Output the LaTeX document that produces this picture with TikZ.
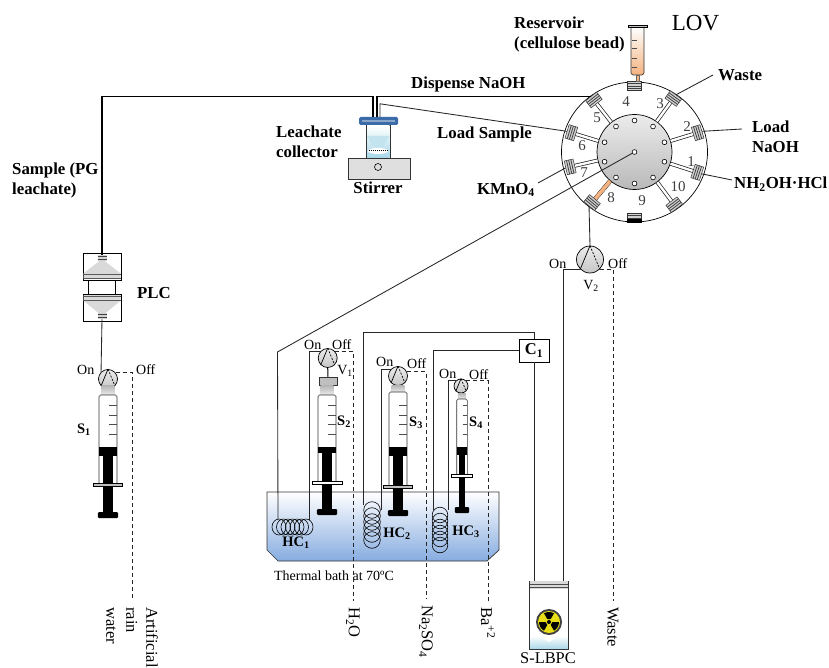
\documentclass[tikz,border=0pt]{standalone}
\usepackage{fontspec}
\setmainfont{Liberation Serif}
\usetikzlibrary{shapes.geometric}

\definecolor{bathblue}{HTML}{86ACE0}
\definecolor{lidblue}{HTML}{3B6BA8}
\definecolor{liquid}{HTML}{A9D8E8}
\definecolor{beadorange}{HTML}{F3B27F}
\definecolor{pipegray}{HTML}{262626}

\tikzset{
  pipe/.style={draw=pipegray, line width=.85pt},
  heavypipe/.style={draw=black, line width=1.2pt},
  drain/.style={draw=pipegray, line width=.8pt, dashed, dash pattern=on 4pt off 3pt},
  thinlbl/.style={font=\fontsize{14}{16}\selectfont, inner sep=0pt},
  boldlbl/.style={font=\fontsize{16.8}{20}\selectfont\bfseries, inner sep=0pt, align=left},
  smallbold/.style={font=\fontsize{14.5}{16}\selectfont\bfseries, inner sep=0pt},
  sidelbl/.style={font=\fontsize{16.5}{20}\selectfont, inner sep=0pt, rotate=-90, anchor=west, align=left},
  numlbl/.style={font=\fontsize{15}{16}\selectfont, text=black!75, inner sep=0pt},
  portbox/.style={draw=black!80, rectangle, inner sep=0pt, minimum width=14pt, minimum height=9pt, fill=gray!35, line width=.5pt},
  stripes/.style={draw=black!75, line width=.8pt},
  channel/.style={draw=black!90, double=white, double distance=2.4pt, line width=.7pt},
  valvebody/.style={circle, draw=black, line width=.7pt, inner sep=0pt, top color=gray!15, bottom color=gray!45},
  coilring/.style={draw=black, line width=.6pt}
}

\newcommand{\syringe}[9][gray!50]{%
  \pgfmathsetmacro{\stemw}{0.55*#8}
  \pgfmathsetmacro{\footw}{0.8*#8+3}
  \fill[top color=gray!60, bottom color=gray!15] ({#2-0.72*#8},#3) rectangle ({#2+0.72*#8},#4);
  \fill[white] ({#2-#8},#4) rectangle ({#2+#8},#6);
  \draw[black!80, line width=.6pt, rounded corners=1.5pt] ({#2-#8},#6) -- ({#2-#8},#4) -- ({#2+#8},#4) -- ({#2+#8},#6);
  \foreach \i in {0,...,3} \draw[black!70, line width=.6pt] ({#2+0.1*#8},{434-9.6*\i}) -- ({#2+#8},{434-9.6*\i});
  \fill[black] ({#2-#8},447) rectangle ({#2+#8},#5);
  \fill[black] ({#2-\stemw},#5) rectangle ({#2+\stemw},#7);
  \draw[fill=#1, line width=.5pt] ({#2-#9},{#6-1.5}) rectangle ({#2+#9},{#6+1.5});
  \fill[black, rounded corners=1.2pt] ({#2-\footw},#7) rectangle ({#2+\footw},{#7+6});
}

\newcommand{\valve}[4]{%
  \node[valvebody, minimum size=#4] (#1) at (#2,#3) {};
  \draw[black, line width=.7pt] (#1.north) -- (#1.-135);
  \draw[black, line width=.7pt, dash pattern=on 2pt off 1.5pt] (#1.north) -- (#1.-45);
}

\begin{document}
\begin{tikzpicture}[x=1pt, y=-1pt]
\useasboundingbox (0,0) rectangle (829,668);

\fill[white] (0,0) rectangle (829,668);

\draw[black!80, line width=.7pt, top color=white, bottom color=bathblue] (267,492) -- (499,492) -- (499,550) -- (487,561) -- (278,561) -- (267,550) -- cycle;

\node[ellipse, draw=black, line width=.7pt, minimum width=146pt, minimum height=140pt, inner sep=0pt] (lov) at (634.5,152) {};
\node[circle, draw=black, line width=.7pt, minimum size=75pt, inner sep=0pt, top color=gray!15, bottom color=gray!55] (hub) at (634.5,152) {};
\foreach \h in {18,54,...,342}
  \draw[black, line width=.6pt, fill=white] ({634.5+31.5*cos(\h)},{152-31.5*sin(\h)}) circle (2.4);

\foreach \a/\n in {-18/1,17/2,54/3,90/4,128/5,163/6,-167/7,-130/8,-90/9,-53/10}
  \draw[channel] (hub.\a) -- ({634.5+62*cos(\a)},{152-62*sin(\a)});
\draw[draw=black!80, double=beadorange, double distance=3.6pt, line width=.4pt] (hub.-130) -- ({634.5+62*cos(-130)},{152-62*sin(-130)});
\foreach \a/\n in {-18/1,17/2,54/3,90/4,128/5,163/6,-167/7,-130/8,-90/9,-53/10} {
  \node[portbox, rotate=\a-90] (p\n) at ({634.5+66*cos(\a)},{152-66*sin(\a)}) {};
  \foreach \s in {-2.2,0,2.2}
    \draw[stripes, shift={(p\n.center)}, rotate=\a-90] (-7,\s) -- (7,\s);
}
\fill[black] (p9.north west) rectangle ([yshift=3.5pt]p9.north east);

\foreach \n/\x/\y in {1/691/162,2/687/127,3/660/104,4/626/102,5/597/118,6/582/146,7/584/173,8/611/198,9/642/201,10/678/187}
  \node[numlbl] at (\x,\y) {\n};

\fill[top color=white, bottom color=beadorange] (631,27) rectangle (644,75);
\draw[black!80, line width=.6pt] (631,27) -- (631,73) -- (633,75) -- (642,75) -- (644,73) -- (644,27);
\draw[fill=gray!50, line width=.5pt] (628,25) rectangle (647.5,27);
\foreach \y in {40,48,58,67} \draw[black!70, line width=.6pt] (632,\y) -- (636.5,\y);
\draw[draw=black!60, fill=beadorange, line width=.4pt] (636,75) rectangle (639.5,81);

\node[draw=black!80, fill=white, minimum width=24pt, minimum height=33pt, inner sep=0pt, line width=.7pt] (beaker) at (378,141.5) {};
\fill[top color=white, bottom color=liquid] (367,125.5) rectangle (389.5,157.5);
\fill[liquid!70] (367,136) -- (389.5,136) -- (383,147) -- (373,147) -- cycle;
\draw[black!80, line width=.7pt] (366,125) -- (366,158) (390.5,125) -- (390.5,158);
\fill[white] (378,151) ellipse (10 and 3);
\draw[black, line width=1pt, dash pattern=on 1pt off 1pt] (369,150.5) -- (388,150.5);
\node[rectangle, rounded corners=1.5pt, fill=lidblue, minimum width=39pt, minimum height=8pt, inner sep=0pt] (lid) at (378.5,121) {};
\fill[lidblue!60] (362,120) rectangle (395,122);
\node[draw=black!80, fill=gray!25, minimum width=62pt, minimum height=21pt, inner sep=0pt, line width=.7pt] (stirrer) at (379,169) {};
\node[circle, draw=black, line width=.6pt, minimum size=7pt, inner sep=0pt] (stirdot) at (378,167) {};

\node[draw=black, line width=.7pt, minimum width=38pt, minimum height=27pt, inner sep=0pt] (plcA) at (102,266.5) {};
\node[draw=black, line width=.7pt, minimum width=38pt, minimum height=27pt, inner sep=0pt] (plcB) at (102,307.5) {};
\draw[black, line width=.7pt] ([xshift=-14pt]plcA.south) -- ([xshift=-14pt]plcB.north) ([xshift=13pt]plcA.south) -- ([xshift=13pt]plcB.north);
\fill[gray!30] (102,259) -- (120,273) -- (84,273) -- cycle (102,316) -- (120,301) -- (84,301) -- cycle;
\fill[gray!30] (83.5,273) rectangle (120.5,279) (83.5,295) rectangle (120.5,301);
\draw[black!65, line width=.8pt] (83.5,274) -- (120.5,274) (83.5,278) -- (120.5,278) (83.5,296) -- (120.5,296) (83.5,300) -- (120.5,300);
\node[portbox, minimum width=9pt, minimum height=6pt, draw=none] (plcIn) at (102,258) {};
\node[portbox, minimum width=9pt, minimum height=6pt, draw=none] (plcOut) at (102,316) {};
\draw[stripes] (97.5,256.5) -- (106.5,256.5) (97.5,259.5) -- (106.5,259.5) (97.5,314.5) -- (106.5,314.5) (97.5,317.5) -- (106.5,317.5);

\coordinate (hc1a) at (278,520);
\coordinate (hc1b) at (309,520);
\coordinate (hc2a) at (363,505);
\coordinate (hc2b) at (381,510);
\coordinate (hc3a) at (433,510);
\coordinate (hc3b) at (448,510);

\foreach \x in {279,283.5,288,292.5,297,301.5,306} \draw[coilring] (\x,527) ellipse (7 and 8);
\foreach \y in {510,516,522,528,534,540} \draw[coilring] (372,\y) circle (8.3);
\foreach \y in {515,521,527,533,539,545} \draw[coilring] (440,\y) circle (7.8);

\node[draw=black, fill=white, line width=.8pt, minimum width=30pt, minimum height=23pt, inner sep=0pt, font=\fontsize{16.5}{16}\selectfont\bfseries] (C1) at (534,350.5) {C\textsubscript{1}};

\node[rectangle, minimum width=39pt, minimum height=68pt, inner sep=0pt] (vial) at (548.5,615) {};
\fill[top color=white, bottom color=white] (529,589) rectangle (568,638);
\fill[top color=white, bottom color=liquid] (529,636) rectangle (568,649);
\fill[white] (543,638) -- (555,638) -- (549,642) -- cycle;
\fill[gray!30] (529,581) rectangle (568,589);
\draw[black!70, line width=.8pt] (529,584.5) -- (568,584.5) (529,587) -- (568,587);
\draw[black!80, line width=.7pt] (529,581) -- (529,649) -- (568,649) -- (568,581);
\fill[white] (534,608) rectangle (563,635);
\begin{scope}[shift={(549,622)}]
  \fill[black!75] (0,0) circle (13);
  \fill[yellow!90!black] (0,0) circle (11);
  \fill[black] (0,0) circle (2);
  \foreach \b in {270,30,150}
    \fill[black] (\b-30:3.4) arc[start angle=\b-30, end angle=\b+30, radius=3.4] -- (\b+30:10) arc[start angle=\b+30, end angle=\b-30, radius=10] -- cycle;
\end{scope}

\valve{vs1}{108}{379}{19pt}
\valve{vs2}{327.7}{358}{19pt}
\valve{vs3}{398}{376}{19pt}
\valve{vs4}{461}{386}{14pt}
\valve{v2}{590}{259.5}{27pt}

\node[draw=black!80, fill=gray!50, minimum width=18pt, minimum height=8pt, inner sep=0pt, line width=.5pt] (conn2) at (328,381) {};
\draw[black, line width=1pt] (vs2.south) -- (conn2.north);

\syringe{108}{385}{395}{456}{484.5}{512}{9}{14.5}
\syringe[white]{327}{385}{395}{453}{483}{509}{9}{15}
\syringe{398}{385}{392}{456}{486.5}{510}{9}{14.5}
\syringe[white]{462}{393}{399}{455}{475.5}{507}{5.3}{10.5}

\node[thinlbl, anchor=west] (lOn1) at (77,370) {On};
\node[thinlbl, anchor=west] (lOff1) at (136,370) {Off};
\node[thinlbl, anchor=west] (lOn2) at (304,345) {On};
\node[thinlbl, anchor=west] (lOff2) at (332,345) {Off};
\node[thinlbl, anchor=west] (lOn3) at (376,362) {On};
\node[thinlbl, anchor=west] (lOff3) at (407,364) {Off};
\node[thinlbl, anchor=west] (lOn4) at (439,374) {On};
\node[thinlbl, anchor=west] (lOff4) at (469,375) {Off};
\node[thinlbl, anchor=west] (lOn5) at (549,264) {On};
\node[thinlbl, anchor=west] (lOff5) at (608,264) {Off};
\node[thinlbl] (lV1) at (345,371) {V\textsubscript{1}};
\node[thinlbl] (lV2) at (591,286) {V\textsubscript{2}};
\node[thinlbl] (lbath) at (334,576) {Thermal bath at 70ºC};
\node[font=\fontsize{23}{24}\selectfont, inner sep=0pt] (lLov) at (695.5,23) {LOV};
\node[font=\fontsize{16.4}{18}\selectfont, inner sep=0pt] (lVial) at (548,658) {S-LBPC};

\node[boldlbl, anchor=west] (lRes) at (514,34) {Reservoir\\(cellulose bead)};
\node[boldlbl, anchor=west] (lDisp) at (411,84) {Dispense NaOH};
\node[boldlbl, anchor=west] (lWaste) at (718,75) {Waste};
\node[boldlbl, anchor=west] (lNaoh) at (752,137) {Load\\NaOH};
\node[boldlbl, anchor=west] (lNh) at (734,184) {NH\textsubscript{2}OH·HCl};
\node[boldlbl, anchor=east] (lKm) at (535,190) {KMnO\textsubscript{4}};
\node[boldlbl, anchor=west] (lLoad) at (437,134) {Load Sample};
\node[boldlbl, anchor=west] (lColl) at (276,142) {Leachate\\collector};
\node[boldlbl] (lStir) at (378,188) {Stirrer};
\node[boldlbl, anchor=west] (lSample) at (12,180) {Sample (PG\\leachate)};
\node[boldlbl] (lPlc) at (154,293) {PLC};
\node[smallbold] (lS1) at (84,430) {S\textsubscript{1}};
\node[smallbold] (lS2) at (344,422) {S\textsubscript{2}};
\node[smallbold] (lS3) at (416,423) {S\textsubscript{3}};
\node[smallbold] (lS4) at (476,423) {S\textsubscript{4}};
\node[smallbold] (lH1) at (296,543) {HC\textsubscript{1}};
\node[smallbold] (lH2) at (397,534) {HC\textsubscript{2}};
\node[smallbold] (lH3) at (466,532) {HC\textsubscript{3}};

\node[sidelbl] (lArt) at (132,607) {Artificial\\rain\\water};
\node[sidelbl] (lWater) at (353,607) {H\textsubscript{2}O};
\node[sidelbl] (lNa) at (426,605) {Na\textsubscript{2}SO\textsubscript{4}};
\node[sidelbl] (lBa) at (488,607) {Ba\textsuperscript{+2}};
\node[sidelbl] (lDrain) at (613,607) {Waste};

\draw[heavypipe] (p5.north) -| ([xshift=-1.5pt]lid.north);
\draw[heavypipe] (plcIn.north) -- ++(0,-158) -| ([xshift=-5.5pt]lid.north);
\draw[pipe] (p6.north) -- ([xshift=1.5pt,yshift=13pt]lid.north) -- ([xshift=1.5pt]lid.north);
\draw[pipe] (p3.north) -- ([xshift=-5pt]lWaste.west);
\draw[pipe] (p2.north) -- ([xshift=-10pt,yshift=8pt]lNaoh.west);
\draw[pipe] (p1.north) -- ([xshift=-2pt,yshift=4pt]lNh.west);
\draw[pipe] (p7.north) -- ([xshift=3pt,yshift=7pt]lKm.east);
\draw[pipe] (hub.center) -- ++(-357,200) -- (hc1a);
\draw[black, line width=.6pt, fill=white] (hub.center) circle (2.4);
\draw[pipe] (p8.north) -- (v2.north);

\draw[pipe] (plcOut.south) -- (vs1.135);
\draw[pipe] (vs2.135) -| (hc1b);
\draw[pipe] (vs3.135) -| (hc2b);
\draw[pipe] (vs4.135) -| (hc3b);
\draw[pipe] (hc2a) -- ++(0,-173) -| (C1.north);
\draw[pipe] (hc3a) |- (C1.west);
\draw[pipe] (C1.south) -- (C1.south |- vial.north);
\draw[pipe] (v2.-135) -| ([xshift=14.5pt]vial.north);

\draw[drain, shorten >=8pt] (vs1.40) -| (lArt.west);
\draw[drain, shorten >=6pt] (vs2.45) -| (lWater.west);
\draw[drain, shorten >=6pt] (vs3.25) -| (lNa.west);
\draw[drain, shorten >=6pt] (vs4.45) -| (lBa.west);
\draw[drain, shorten >=6pt] (v2.-45) -| (lDrain.west);

\end{tikzpicture}
\end{document}
